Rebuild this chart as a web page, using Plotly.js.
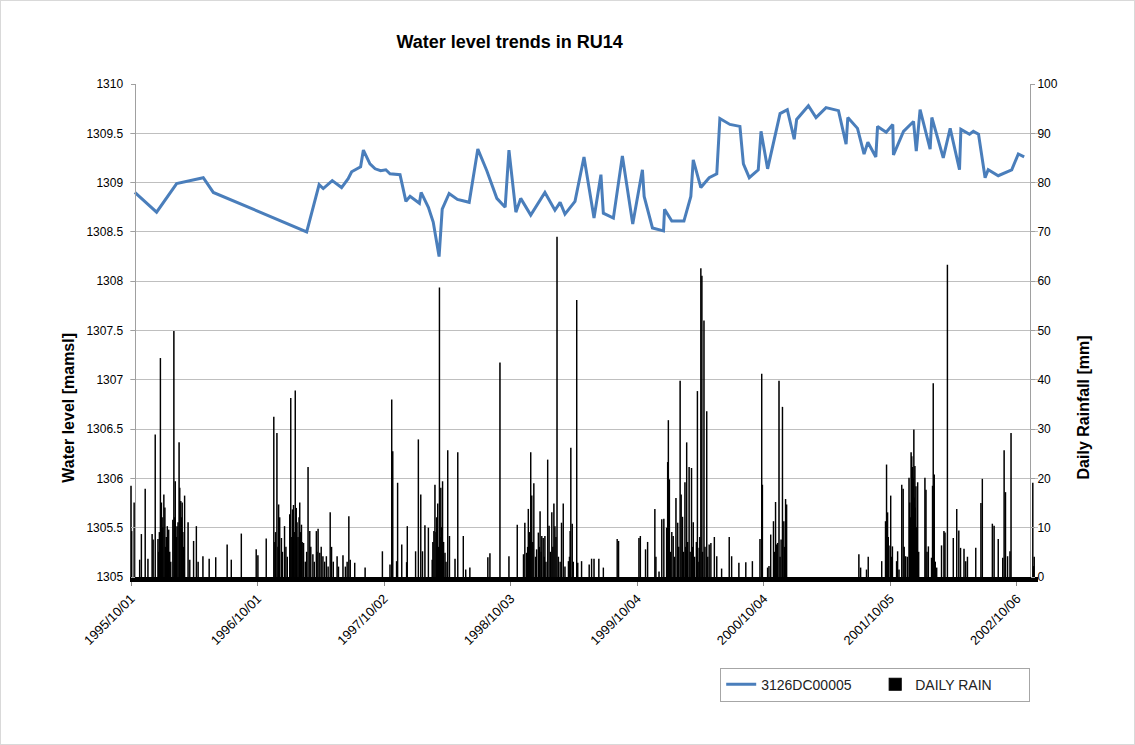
<!DOCTYPE html>
<html>
<head>
<meta charset="utf-8">
<script src="https://cdn.plot.ly/plotly-3.0.1.min.js"></script>
<style>
html,body{margin:0;padding:0;background:#fff;}
#wrap{position:relative;width:1135px;height:745px;}
#chart{width:1135px;height:745px;}
#frame{position:absolute;left:0;top:0;width:1133px;height:743px;border:1px solid #d9d9d9;pointer-events:none;}
</style>
</head>
<body>
<div id="wrap"><div id="chart"></div><div id="frame"></div></div>
<script>
// Water level series (3126DC00005)
const levelDates = ['1995-10-12','1995-12-14','1996-02-10','1996-04-27','1996-05-26','1997-02-20','1997-03-28','1997-04-09','1997-05-05','1997-06-01','1997-06-20','1997-06-30','1997-07-26','1997-08-03','1997-08-22','1997-09-06','1997-09-22','1997-10-07','1997-10-19','1997-11-17','1997-12-04','1997-12-16','1998-01-12','1998-01-17','1998-02-07','1998-02-21','1998-03-10','1998-03-19','1998-04-08','1998-05-02','1998-06-05','1998-06-30','1998-07-26','1998-08-24','1998-09-17','1998-09-28','1998-10-18','1998-11-01','1998-11-30','1998-12-12','1999-01-10','1999-02-08','1999-02-23','1999-03-09','1999-04-07','1999-05-03','1999-06-01','1999-06-21','1999-06-28','1999-07-27','1999-08-22','1999-09-21','1999-10-19','1999-10-24','1999-11-17','1999-12-19','1999-12-22','2000-01-12','2000-02-16','2000-03-07','2000-03-14','2000-04-05','2000-04-29','2000-05-21','2000-05-30','2000-06-28','2000-07-27','2000-08-06','2000-08-23','2000-09-18','2000-09-26','2000-10-15','2000-11-20','2000-12-11','2000-12-31','2001-01-07','2001-02-10','2001-03-04','2001-04-02','2001-05-08','2001-05-30','2001-06-04','2001-07-02','2001-07-21','2001-08-01','2001-08-24','2001-08-29','2001-09-23','2001-10-12','2001-10-14','2001-11-12','2001-12-11','2001-12-19','2001-12-30','2002-01-28','2002-02-02','2002-03-07','2002-03-27','2002-04-23','2002-04-27','2002-05-22','2002-06-02','2002-06-17','2002-07-06','2002-07-15','2002-08-13','2002-09-21','2002-10-10','2002-10-27'];
const levelValues = [1308.90,1308.70,1308.99,1309.05,1308.90,1308.50,1308.98,1308.94,1309.02,1308.95,1309.04,1309.11,1309.16,1309.33,1309.19,1309.14,1309.12,1309.13,1309.09,1309.08,1308.81,1308.86,1308.79,1308.90,1308.75,1308.60,1308.25,1308.73,1308.89,1308.83,1308.80,1309.34,1309.12,1308.84,1308.75,1309.33,1308.70,1308.84,1308.67,1308.74,1308.90,1308.72,1308.80,1308.68,1308.81,1309.26,1308.64,1309.08,1308.69,1308.64,1309.27,1308.58,1309.13,1308.86,1308.54,1308.51,1308.73,1308.61,1308.61,1308.86,1309.23,1308.95,1309.05,1309.09,1309.65,1309.59,1309.57,1309.19,1309.05,1309.13,1309.52,1309.14,1309.70,1309.74,1309.44,1309.64,1309.78,1309.66,1309.76,1309.73,1309.39,1309.66,1309.55,1309.29,1309.41,1309.26,1309.57,1309.51,1309.59,1309.28,1309.52,1309.62,1309.32,1309.74,1309.34,1309.66,1309.25,1309.55,1309.13,1309.54,1309.49,1309.52,1309.49,1309.05,1309.13,1309.07,1309.13,1309.29,1309.26];

// Daily rain: day number counted from the first day of the record, and rain in mm
const rainStart = '1995-10-01';
const rainDay = [0,2,9,25,30,41,49,61,64,70,78,80,82,85,88,90,92,95,98,100,102,105,109,112,115,121,124,126,128,131,133,136,139,141,144,146,148,150,152,155,165,170,181,189,194,208,226,245,278,290,319,362,367,391,413,416,418,422,425,427,430,435,438,444,448,452,459,462,465,467,470,472,475,478,480,483,486,488,490,493,495,499,504,508,512,517,520,526,530,536,538,541,546,550,555,560,565,570,576,580,585,596,600,613,620,625,630,634,647,
677,727,749,754,757,768,771,783,797,799,823,831,838,843,850,860,871,873,876,879,882,884,887,889,892,894,896,898,901,904,908,911,916,921,937,945,961,968,980,1032,1038,1067,1093,1117,1135,1139,1144,1147,1149,1152,1156,1159,1162,1165,1170,1173,1178,1181,1183,1186,1188,1192,1195,1197,1200,1205,1209,1213,1217,1220,1223,1226,1229,1232,1236,1241,1245,1250,1255,1265,1268,1270,1272,1276,1279,1289,1292,1303,
1325,1332,1339,1353,1366,1406,1410,1469,1473,1488,1494,1515,1518,1527,1535,1541,1549,1552,1554,1557,1560,1564,1568,1572,1576,1581,1584,1588,1591,1595,1598,1602,1604,1607,1610,1614,1617,1621,1624,1626,1630,1635,1638,1640,1643,1645,1648,1651,1653,1657,1660,1665,1668,1672,1677,1687,1694,1708,1730,1737,1758,1778,1797,1819,1824,1826,1841,1845,1850,1858,1861,1864,1867,1870,1874,1877,1880,1884,1888,1890,1893,1896,
2105,2110,2127,2132,2171,2182,2185,2188,2190,2192,2197,2200,2202,2214,2217,2221,2229,2233,2236,2240,2245,2250,2252,2254,2256,2258,2260,2262,2264,2265,2267,2268,2270,2272,2275,2278,2296,2299,2302,2306,2315,2318,2320,2323,2326,2330,2344,2351,2354,2361,2378,2388,2394,2399,2409,2414,2419,2443,2458,2462,2491,2496,2508,2521,2525,2529,2535,2542,2545,2608,2610,2612];
const rainMM = [18.4,9.2,15,3.4,8.6,17.8,3.6,8.6,7.5,28.8,7.6,5,9,44.3,15,12,10,16.6,14,6,8,10.2,9.5,5,3,11.5,49.8,12,19.3,8,10.2,11,27.2,18,15.3,12,15,9,6,16.4,11,3.4,7.2,10.2,3,4.1,3.6,3.9,6.5,3.4,8.7,5.5,4.3,7.7,32.4,7,9,29.1,6,14.6,12,7.8,5,10.2,6,4,12.6,36.2,8,13.6,14.5,9,37.7,13.9,11,8,12,15,9,10.5,7,6.8,3,5,22.2,9.2,6,4.5,3,9.2,5,9.7,4.8,6,4.1,3,4.1,2,13,6,3,4.1,2,4.3,2,3,12.2,3.4,2.8,
1.8,5.1,2.4,35.9,25.4,3.1,19,6.5,2.9,10.2,5.1,27.8,16.6,5.1,10.4,9.9,3.4,7,9.2,18.6,9,12,14.8,6,58.6,8,18,10,19.3,7,4.8,3,25.6,8.2,3.6,25.2,8.2,1.4,1.8,3.9,4.7,43.4,4.1,10.5,4.5,10.9,4.8,6,13.7,9,25.2,16.4,7,18.9,4,5.5,8.9,6,13.2,5,8.2,7.8,4,8.2,3,23.7,10.3,5,13,6,14.8,10.2,8,68.9,4,3,10.9,14.8,2,3.1,4,9.2,26.1,10.7,3,56.1,2.8,3.1,
2.4,3.6,3.6,3.6,1.8,7.6,7.2,7.8,8.2,5.5,7,13.7,4,1,11.6,11.7,9.9,23.2,31.7,19.7,5,9,8.2,4,15.9,10.9,6,39.7,16.6,12.1,5,19.1,6,27.2,7,22.2,5,22,6,11,4,7,37.6,3,5.8,8,62.5,61,5,51.9,6,33.5,4,6.5,6.8,8,4.1,1.6,8,4.1,2.8,2.9,3.1,7.6,41.1,18.6,1.8,2.1,8.5,11.2,5,15.1,6.5,6.8,39.7,4,7.5,34.4,11.2,6,15.7,14.6,
4.5,1.8,1.4,4,3.1,11.2,22.7,13,8,6.3,16.4,4,6.1,3.1,5.1,1.4,18.6,17.8,6,4.1,4,20,15,12,25.2,24.4,22.2,20,29.8,16,22.4,14,18.3,10,19.1,5,20,17.6,5,6.1,3.8,18.4,39.2,20.7,3,1.8,6.3,9.2,8.9,63.2,7.8,13.7,9.3,5.8,5.6,3.1,4,5.8,14.9,19.8,10.7,10.3,7.6,3.8,25.6,17.1,4.1,5.1,29.1,19,2.1,4];

const tickDates = ['1995-10-01','1996-10-01','1997-10-02','1998-10-03','1999-10-04','2000-10-04','2001-10-05','2002-10-06'];
const tickLabels = ['1995/10/01','1996/10/01','1997/10/02','1998/10/03','1999/10/04','2000/10/04','2001/10/05','2002/10/06'];
const levelTicks = [1305, 1305.5, 1306, 1306.5, 1307, 1307.5, 1308, 1308.5, 1309, 1309.5, 1310];
const levelTickLabels = ['1305','1305.5','1306','1306.5','1307','1307.5','1308','1308.5','1309','1309.5','1310'];

const levelName = '3126DC00005';
const rainName = 'DAILY RAIN';

// build rain dates from the day numbers
const startMs = Date.parse(rainStart + 'T00:00:00Z');
const rainDates = rainDay.map(d => new Date(startMs + d * 86400000).toISOString().slice(0, 10));

const FONT = 'Liberation Sans, Arial, sans-serif';

const traces = [
  {
    type: 'bar', name: rainName, x: rainDates, y: rainMM, yaxis: 'y2',
    width: 86400000,
    marker: {color: '#000', line: {color: '#000', width: 1.1}},
    hoverinfo: 'x+y'
  },
  {
    type: 'scatter', mode: 'lines', name: levelName, x: levelDates, y: levelValues,
    line: {color: '#4a7ebb', width: 3}
  }
];

const layout = {
  width: 1135, height: 745,
  margin: {l: 130, r: 97, t: 84, b: 168},
  paper_bgcolor: '#fff', plot_bgcolor: '#fff',
  font: {family: FONT, size: 12, color: '#000'},
  title: {text: '<b>Water level trends in RU14</b>', x: 0.449, xref: 'container', xanchor: 'center',
          y: 0.944, yref: 'container', yanchor: 'middle', font: {family: FONT, size: 18, color: '#000'}},
  showlegend: true,
  legend: {orientation: 'h', x: 0.65, xanchor: 'left', y: -0.184, yanchor: 'top',
           bordercolor: '#a6a6a6', borderwidth: 1, font: {family: FONT, size: 14, color: '#222'},
           traceorder: 'reversed', entrywidth: 109},
  bargap: 0,
  xaxis: {
    type: 'date', range: ['1995-09-28 02:00', '2002-12-06'],
    tickmode: 'array', tickvals: tickDates, ticktext: tickLabels, tickangle: -45,
    tickfont: {family: FONT, size: 13, color: '#000'},
    showgrid: false, zeroline: false,
    showline: true, linecolor: '#000', linewidth: 5,
    ticks: 'outside', ticklen: 4, tickcolor: '#888'
  },
  yaxis: {
    range: [1305, 1310], tickmode: 'array', tickvals: levelTicks, ticktext: levelTickLabels,
    anchor: 'free', position: 0.005,
    showgrid: true, gridcolor: '#bfbfbf', gridwidth: 1, zeroline: false,
    showline: true, linecolor: '#a0a0a0', linewidth: 1,
    ticks: 'outside', ticklen: 4, tickcolor: '#a0a0a0', ticklabelstandoff: 5,
    tickfont: {family: FONT, size: 12, color: '#000'}
  },
  yaxis2: {
    range: [0, 100], dtick: 10, tick0: 0,
    overlaying: 'y', side: 'right', anchor: 'free', position: 0.9912,
    showgrid: false, zeroline: false,
    showline: true, linecolor: '#a0a0a0', linewidth: 1,
    ticks: 'outside', ticklen: 4, tickcolor: '#a0a0a0',
    tickfont: {family: FONT, size: 12, color: '#000'}
  },
  annotations: [
    {text: '<b>Water level [mamsl]</b>', xref: 'paper', yref: 'paper', x: -0.068, y: 0.344,
     textangle: -90, showarrow: false, xanchor: 'center', yanchor: 'middle',
     font: {family: FONT, size: 16, color: '#000'}},
    {text: '<b>Daily Rainfall [mm]</b>', xref: 'paper', yref: 'paper', x: 1.0496, y: 0.344,
     textangle: -90, showarrow: false, xanchor: 'center', yanchor: 'middle',
     font: {family: FONT, size: 16, color: '#000'}}
  ]
};

Plotly.newPlot('chart', traces, layout, {displayModeBar: false, staticPlot: true});
</script>
</body>
</html>
